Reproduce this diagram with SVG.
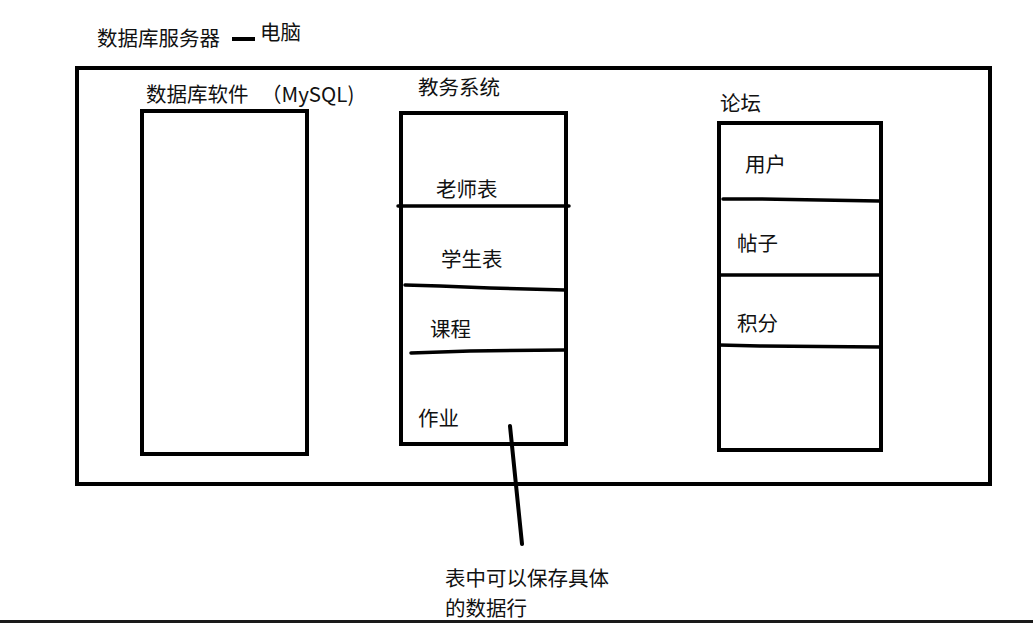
<svg xmlns="http://www.w3.org/2000/svg" width="1033" height="623" viewBox="0 0 1033 623">
<style>
.t{font-family:"Noto Sans CJK SC","Noto Sans",sans-serif;font-size:20.5px;fill:#111}
.b{fill:none;stroke:#000;stroke-width:4}
.l{fill:none;stroke:#000;stroke-width:3.5;stroke-linecap:round}
</style>
<rect width="1033" height="623" fill="#fff"/>
<g id="server">
<text class="t" x="97" y="46">数据库服务器</text>
<line x1="232" y1="39" x2="255" y2="39" stroke="#000" stroke-width="4"/>
<text class="t" x="260" y="40">电脑</text>
<rect class="b" x="77" y="68" width="913" height="416"/>
</g>
<g id="mysql">
<text class="t" x="146" y="102">数据库软件 <tspan x="261">（MySQL)</tspan></text>
<rect class="b" x="142" y="111" width="165" height="343"/>
</g>
<g id="jiaowu">
<text class="t" x="418" y="95">教务系统</text>
<rect class="b" x="401" y="113" width="165" height="331"/>
<line class="l" x1="398" y1="206" x2="569" y2="206"/>
<path class="l" d="M405 285 L440 286 L490 288 L565 290"/>
<path class="l" d="M411 353 L470 351 L564 350"/>
<text class="t" x="436" y="197">老师表</text>
<text class="t" x="441" y="267">学生表</text>
<text class="t" x="430" y="337">课程</text>
<text class="t" x="418" y="426">作业</text>
</g>
<g id="forum">
<text class="t" x="720" y="111">论坛</text>
<rect class="b" x="719" y="123" width="162" height="327"/>
<path class="l" d="M723 199 L760 199 L820 200 L879 201"/>
<line class="l" x1="719" y1="275" x2="879" y2="275"/>
<path class="l" d="M719 345 L760 346 L880 347"/>
<text class="t" x="745" y="172">用户</text>
<text class="t" x="737" y="251">帖子</text>
<text class="t" x="737" y="331">积分</text>
</g>
<g id="connectors">
<line x1="510" y1="426" x2="522" y2="544" stroke="#000" stroke-width="4" stroke-linecap="round"/>
</g>
<g id="note">
<text class="t" x="445" y="586">表中可以保存具体</text>
<text class="t" x="445" y="616">的数据行</text>
</g>
<rect x="0" y="620" width="1033" height="3" fill="#1a1a1a"/>
</svg>
